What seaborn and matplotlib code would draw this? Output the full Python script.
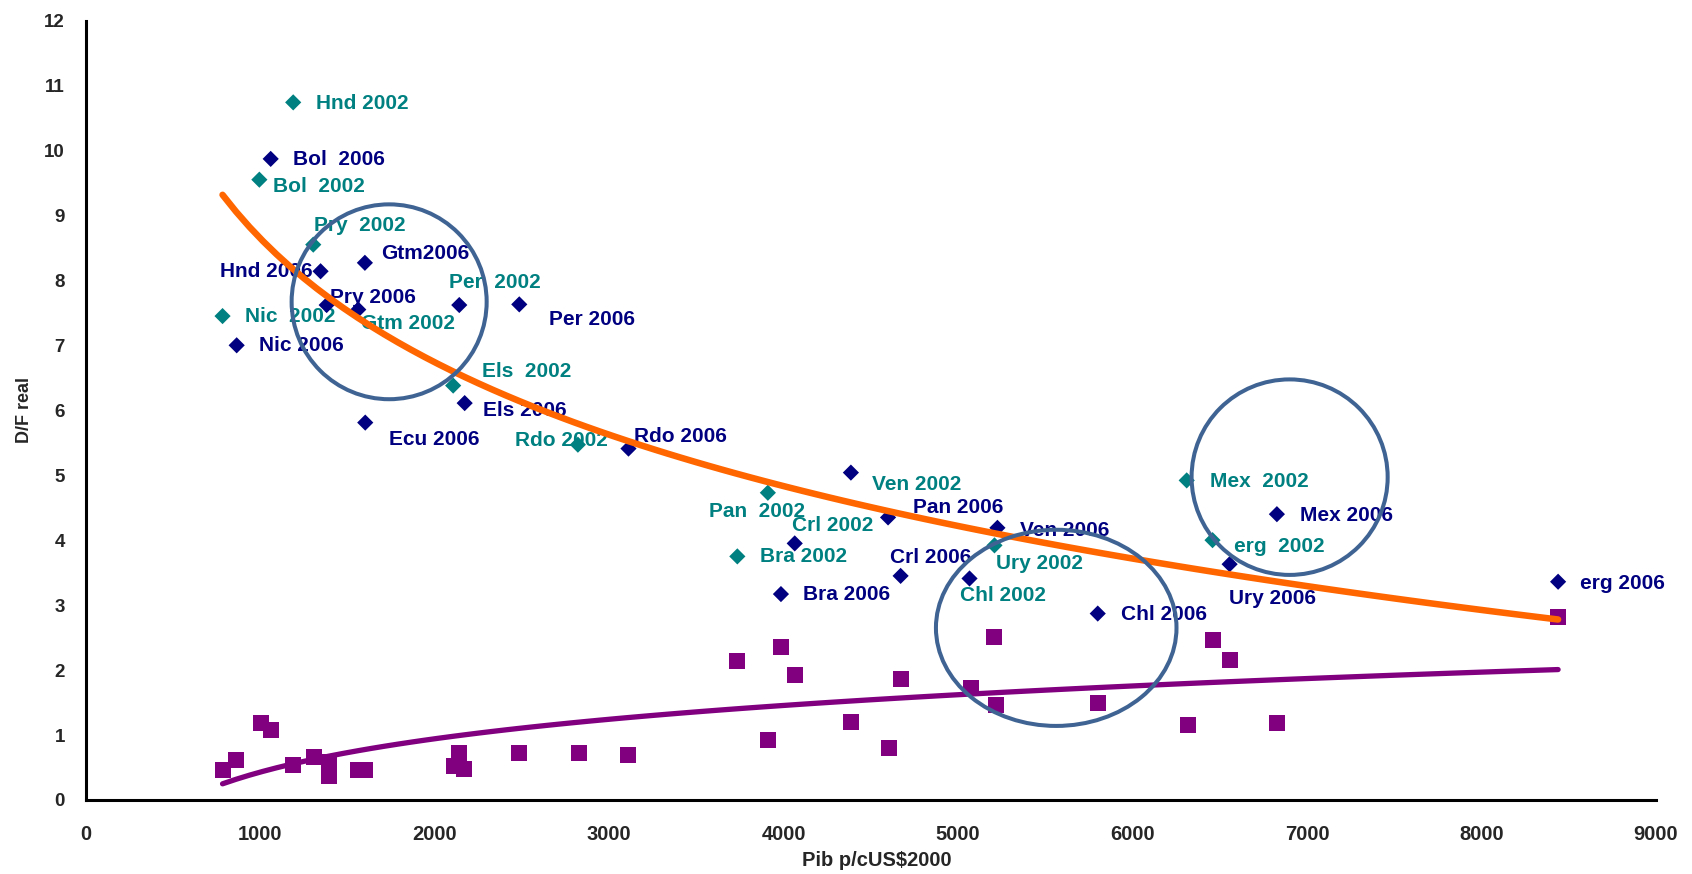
import numpy as np
import pandas as pd
import matplotlib
matplotlib.use('Agg')
import matplotlib.pyplot as plt
from matplotlib.patches import Ellipse
import seaborn as sns

# Rombos verds (2002) i blaus (2006): PIB p/c i D/F real
pib_2002 = [783, 994, 1188, 1303, 2105, 2820, 3909, 3734, 5208, 6310, 6458]
df_2002 = [7.45, 9.55, 10.74, 8.55, 6.38, 5.47, 4.73, 3.75, 3.92, 4.92, 4.00]

pib_2006 = [864, 1059, 1345, 1380, 1561, 1599, 1601, 2140, 2171, 2484, 3110,
            3984, 4063, 4385, 4598, 4670, 5065, 5225, 5800, 6556, 6827, 8439]
df_2006 = [7.00, 9.87, 8.14, 7.62, 7.55, 8.27, 5.81, 7.62, 6.11, 7.63, 5.41,
           3.17, 3.95, 5.04, 4.35, 3.45, 3.41, 4.19, 2.87, 3.63, 4.40, 3.36]

# Quadrats liles
pib_quad = [783, 860, 1001, 1059, 1185, 1307, 1395, 1395, 1560, 1598, 2140,
            2112, 2168, 2485, 2825, 3110, 3734, 3984, 4063, 3909, 4385, 4670,
            4604, 5204, 5071, 5218, 5800, 6459, 6557, 6316, 6827, 8439]
val_quad = [0.46, 0.62, 1.18, 1.08, 0.54, 0.66, 0.59, 0.37, 0.46, 0.46, 0.73,
            0.52, 0.47, 0.73, 0.73, 0.69, 2.14, 2.36, 1.92, 0.92, 1.20, 1.87,
            0.80, 2.51, 1.72, 1.46, 1.49, 2.46, 2.15, 1.15, 1.19, 2.82]

# Etiquetes dels punts
etiquetes = ['Hnd 2002', 'Bol  2006', 'Bol  2002', 'Pry  2002', 'Gtm2006',
             'Hnd 2006', 'Per  2002', 'Pry 2006', 'Per 2006', 'Nic  2002',
             'Gtm 2002', 'Nic 2006', 'Els  2002', 'Els 2006', 'Ecu 2006',
             'Rdo 2002', 'Rdo 2006', 'Pan  2002', 'Crl 2002', 'Ven 2002',
             'Pan 2006', 'Ven 2006', 'Bra 2002', 'Crl 2006', 'Ury 2002',
             'Bra 2006', 'Chl 2002', 'Chl 2006', 'Mex  2002', 'Mex 2006',
             'erg  2002', 'Ury 2006', 'erg 2006']
etiq_any = [2002, 2006, 2002, 2002, 2006, 2006, 2002, 2006, 2006, 2002,
            2002, 2006, 2002, 2006, 2006, 2002, 2006, 2002, 2002, 2002,
            2006, 2006, 2002, 2006, 2002, 2006, 2002, 2006, 2002, 2006,
            2002, 2006, 2006]
# on va cada etiqueta (coordenades de dades)
etiq_pos = [(1317, 10.73), (1185, 9.86), (1074, 9.45), (1309, 8.85), (1691, 8.42),
            (768, 8.14), (2081, 7.97), (1399, 7.73), (2654, 7.40), (911, 7.44),
            (1575, 7.34), (994, 6.99), (2272, 6.60), (2274, 6.00), (1740, 5.55),
            (2459, 5.54), (3142, 5.59), (3569, 4.44), (4050, 4.23), (4506, 4.86),
            (4743, 4.50), (5357, 4.15), (3863, 3.75), (4611, 3.73), (5218, 3.64),
            (4111, 3.17), (5010, 3.15), (5931, 2.86), (6446, 4.90), (6961, 4.38),
            (6580, 3.91), (6555, 3.10), (8565, 3.34)]

# cercles (centre x, centre y, amplada, alçada) en unitats de dades
cercles = [(1738, 7.67, 1118, 3.00), (5562, 2.65, 1379, 3.02), (6900, 4.97, 1124, 3.01)]

TEAL = '#008080'
NAVY = '#000080'
PURPLE = '#800080'
ORANGE = '#FF6600'
RING = '#3F6493'

diam = pd.DataFrame({
    'pib': pib_2002 + pib_2006,
    'df': df_2002 + df_2006,
    'any': ['2002'] * len(pib_2002) + ['2006'] * len(pib_2006),
})
quad = pd.DataFrame({'pib': pib_quad, 'df': val_quad})

sns.set_theme(style='white')
plt.rcParams['font.family'] = ['Liberation Sans', 'DejaVu Sans']
plt.rcParams['font.weight'] = 'bold'

fig = plt.figure(figsize=(16.92, 8.74), dpi=100)
ax = fig.add_axes([0.0508, 0.0847, 0.9279, 0.8918])

sns.scatterplot(data=diam, x='pib', y='df', hue='any', palette={'2002': TEAL, '2006': NAVY},
                marker='D', s=68, linewidth=0, legend=False, zorder=2, ax=ax)
sns.scatterplot(data=quad, x='pib', y='df', color=PURPLE, marker='s', s=140,
                linewidth=0, legend=False, zorder=2, ax=ax)

# línies de tendència logarítmiques
sns.regplot(data=diam, x='pib', y='df', logx=True, scatter=False, ci=None, ax=ax,
            line_kws=dict(color=ORANGE, lw=4.7, zorder=3, solid_capstyle='round'))
sns.regplot(data=quad, x='pib', y='df', logx=True, scatter=False, ci=None, ax=ax,
            line_kws=dict(color=PURPLE, lw=3.8, zorder=3, solid_capstyle='round'))

for txt, yr, (tx, ty) in zip(etiquetes, etiq_any, etiq_pos):
    ax.text(tx, ty, txt, color=TEAL if yr == 2002 else NAVY, fontsize=15,
            fontweight='bold', ha='left', va='center', zorder=1.5)

for cx, cy, w, h in cercles:
    ax.add_patch(Ellipse((cx, cy), w, h, fill=False, edgecolor=RING, lw=2.9, zorder=4))

ax.set_xlim(0, 9000)
ax.set_ylim(0, 12)
ax.set_xticks(range(0, 9001, 1000))
ax.set_yticks(range(0, 13))

for s in ['top', 'right']:
    ax.spines[s].set_visible(False)
for s in ['left', 'bottom']:
    ax.spines[s].set_color('black')
    ax.spines[s].set_linewidth(2.2)

ax.tick_params(axis='both', direction='inout', length=11, width=2, color='black')
ax.tick_params(axis='x', pad=12.5, labelsize=14.5)
ax.tick_params(axis='y', pad=9.5, labelsize=13.5)
for lab in ax.get_xticklabels() + ax.get_yticklabels():
    lab.set_fontweight('bold')

ax.set_xlabel('Pib p/cUS$2000', fontsize=14.5, fontweight='bold')
ax.set_ylabel('D/F real', fontsize=13, fontweight='bold')
ax.xaxis.set_label_coords(0.504, -0.066)
ax.yaxis.set_label_coords(-0.0335, 0.5)

fig.savefig('out.png', dpi=100)
